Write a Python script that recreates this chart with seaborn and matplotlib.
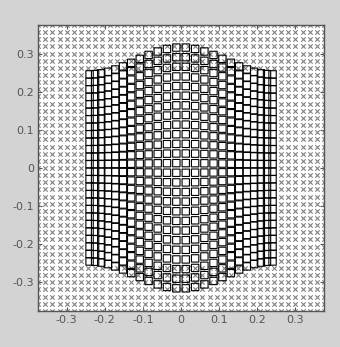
import numpy as np
import pandas as pd
import matplotlib
matplotlib.use("Agg")
import matplotlib.pyplot as plt
import seaborn as sns

# Background lattice of reference points (both axes use the same spacing)
grid_ticks = [-0.375, -0.35625, -0.3375, -0.31875, -0.3, -0.28125, -0.2625,
              -0.24375, -0.225, -0.20625, -0.1875, -0.16875, -0.15, -0.13125,
              -0.1125, -0.09375, -0.075, -0.05625, -0.0375, -0.01875, 0.0,
              0.01875, 0.0375, 0.05625, 0.075, 0.09375, 0.1125, 0.13125, 0.15,
              0.16875, 0.1875, 0.20625, 0.225, 0.24375, 0.2625, 0.28125, 0.3,
              0.31875, 0.3375, 0.35625, 0.375]
hole_half_width = 0.25

# Warped grid: column angles (degrees) and row levels along the centre line
column_angles = [-56.58, -51.66, -46.74, -41.82, -36.90, -31.98, -27.06, -22.14,
                 -17.22, -12.30, -7.38, -2.46, 2.46, 7.38, 12.30, 17.22, 22.14,
                 27.06, 31.98, 36.90, 41.82, 46.74, 51.66, 56.58]
row_levels = [-0.31625, -0.29095, -0.26565, -0.24035, -0.21505, -0.18975,
              -0.16445, -0.13915, -0.11385, -0.08855, -0.06325, -0.03795,
              -0.01265, 0.01265, 0.03795, 0.06325, 0.08855, 0.11385, 0.13915,
              0.16445, 0.18975, 0.21505, 0.24035, 0.26565, 0.29095, 0.31625]
warp_radius = 0.2875   # horizontal half-width of the warped surface
edge_shrink = 0.224    # vertical shrink of the outermost columns
edge_x = 0.24

tick_values = [-0.3, -0.2, -0.1, 0.0, 0.1, 0.2, 0.3]

# Background lattice with the central window removed
gx, gy = np.meshgrid(grid_ticks, grid_ticks)
gx, gy = gx.ravel(), gy.ravel()
keep = (np.abs(gx) > hole_half_width) | (np.abs(gy) > hole_half_width)
background = pd.DataFrame({"x": gx[keep], "y": gy[keep]})

# Warped square grid
col_x = warp_radius * np.sin(np.deg2rad(np.array(column_angles)))
col_scale = 1.0 - edge_shrink * (1.0 - np.cos(np.pi * col_x / edge_x)) / 2.0
CX, RY = np.meshgrid(col_x, np.array(row_levels))
CS, _ = np.meshgrid(col_scale, np.array(row_levels))
surface = pd.DataFrame({"x": CX.ravel(), "y": (RY * CS).ravel()})

sns.set_style("white")
plt.rcParams["font.family"] = ["DejaVu Sans"]
plt.rcParams["axes.unicode_minus"] = False

fig = plt.figure(figsize=(3.40, 3.47), dpi=100, facecolor="#d3d3d3")
ax = fig.add_axes([0.112, 0.104, 0.841, 0.824])
ax.set_facecolor("white")

sns.scatterplot(data=background, x="x", y="y", ax=ax, marker="x",
                color="#808080", s=10, linewidth=0.8, zorder=2, legend=False)
squares = sns.scatterplot(data=surface, x="x", y="y", ax=ax, marker="s", s=28,
                          facecolor="none", edgecolor="black", linewidth=0.8,
                          zorder=3, legend=False).collections[-1]
squares.set_snap(False)

lim = (grid_ticks[0], grid_ticks[-1])
ax.set_xlim(lim)
ax.set_ylim(lim)
ax.set_xticks(tick_values)
ax.set_yticks(tick_values)
labels = [f"{v:g}" for v in tick_values]
ax.set_xticklabels(labels)
ax.set_yticklabels(labels)
ax.set_xlabel("")
ax.set_ylabel("")
ax.tick_params(direction="in", length=3, width=0.8, color="#555555",
               labelcolor="#555555", labelsize=8, top=True, right=True,
               bottom=True, left=True, pad=3)
for sp in ax.spines.values():
    sp.set_visible(True)
    sp.set_color("#555555")
    sp.set_linewidth(1.0)

fig.savefig("out.png", dpi=100, facecolor=fig.get_facecolor())
